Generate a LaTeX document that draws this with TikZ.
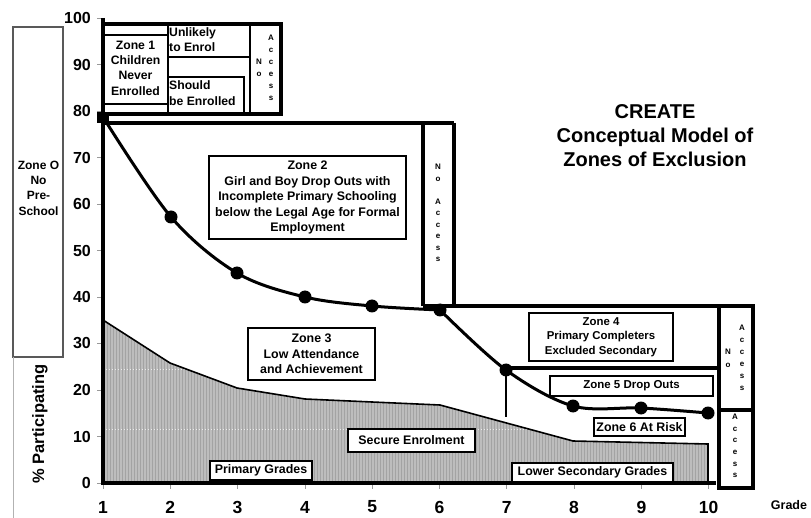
\documentclass[tikz,border=0pt]{standalone}
\usepackage{fontspec}
\setmainfont{Liberation Sans}
\begin{document}
\begin{tikzpicture}[x=1pt,y=-1pt,
  thk/.style={line width=3.2pt},
  thn/.style={line width=1.1pt},
  lbl/.style={draw, line width=1.2pt, fill=white, inner sep=0pt, align=center, font=\fontsize{12.4}{15.5}\selectfont\bfseries},
  txt/.style={inner sep=0pt, align=center, font=\fontsize{12.2}{15.3}\selectfont\bfseries},
  vl/.style={inner sep=0pt, align=center, font=\fontsize{8}{11.8}\selectfont\bfseries},
  ylab/.style={anchor=east, inner sep=0pt, font=\fontsize{16}{16}\selectfont\bfseries},
  xlab/.style={inner sep=0pt, font=\fontsize{17.5}{17.5}\selectfont\bfseries},
]
\useasboundingbox (0,0) rectangle (811,518);

% shaded secure enrolment area
\begin{scope}
\clip (103,320) -- (170,363) -- (237,388) -- (305,399) -- (372,402) -- (440,405) -- (573,441) -- (708,444) -- (708,483) -- (103,483) -- cycle;
\fill[black!26] (100,300) rectangle (712,486);
\foreach \x in {104,107,...,707} \draw[black!36, line width=0.7pt] (\x,300) -- (\x,486);
\draw[black!8, dotted, line width=1pt] (103,370) -- (708,370) (103,429) -- (708,429);
\end{scope}
\draw[line width=1.6pt] (103,320) -- (170,363) -- (237,388) -- (305,399) -- (372,402) -- (440,405) -- (573,441) -- (708,444) -- (708,483);

% Zone O
\draw[black!65, line width=1.4pt] (13,27) rectangle (63,357);
\draw[black!30, line width=1pt] (13,357) -- (13,518);
\node[txt, font=\fontsize{12}{15.3}\selectfont\bfseries] (z0) at (38.5,188) {Zone O\\No\\Pre-\\School};

% Zone 1
\draw[thk] (103,24) rectangle (281,114);
\draw[thn] (103,35) -- (168,35) (103,104) -- (168,104) (168,24) -- (168,114) (168,57) -- (250,57);
\draw[thn] (168,77) rectangle (244,114);
\draw[line width=2.5pt] (250,24) -- (250,114);
\node[txt] (z1) at (135.5,68) {Zone 1\\Children\\Never\\Enrolled};
\node[txt, anchor=west, align=left] (ue) at (169,39.5) {Unlikely\\to Enrol};
\node[txt, anchor=west, align=left] (sbe) at (169,93) {Should\\be Enrolled};
\node[vl] (na1) at (259,67.5) {N\\o};
\node[vl, font=\fontsize{8}{12}\selectfont\bfseries] (na1b) at (271,68) {A\\c\\c\\e\\s\\s};

% Zone 2 frame and no access column
\draw[thk] (103,123) -- (454,123);
\draw[thk] (423,123) -- (423,306) (454,123) -- (454,306);
\draw[thk] (423,306) -- (719,306);
\node[vl, font=\fontsize{8}{11.5}\selectfont\bfseries] (na2) at (438,213) {N\\o\\[11.5pt]A\\c\\c\\e\\s\\s};

% right column and zone 4/5 lines
\draw[thk] (719,306) rectangle (753,488);
\draw[thk] (719,410) -- (753,410);
\draw[thk] (506,368) -- (719,368);
\draw[line width=2.5pt] (506,370) -- (506,417);
\node[vl, font=\fontsize{8}{12.5}\selectfont\bfseries] (na3) at (728,358.5) {N\\o};
\node[vl, font=\fontsize{8}{12}\selectfont\bfseries] (na3b) at (742,358) {A\\c\\c\\e\\s\\s};
\node[vl, font=\fontsize{8}{11.6}\selectfont\bfseries] (na4) at (735,446) {A\\c\\c\\e\\s\\s};

% axes
\foreach \v in {0,10,...,100} {
  \draw[black!40, line width=0.8pt] (97,{483-4.65*\v}) -- (103,{483-4.65*\v});
  \node[ylab] (y\v) at (91,{483-4.65*\v}) {\v};
}
\foreach \g in {1,...,10} {
  \draw[black!40, line width=0.8pt] ({103+67.3*(\g-1)},483) -- ({103+67.3*(\g-1)},489);
  \node[xlab] (x\g) at ({103+67.3*(\g-1)},507) {\g};
}
\draw[line width=3.8pt] (103,18) -- (103,485);
\draw[line width=3.8pt] (101,483) -- (716,483);

% participation curve
\draw[line width=3pt] plot[smooth, tension=0.55] coordinates {(103,117) (171,217) (237,273) (305,297) (372,306) (440,310)};
\draw[line width=3pt] plot[smooth, tension=0.55] coordinates {(440,310) (506,370) (573,406) (641,408) (708,413)};
\fill (97,112) rectangle (109,123);
\foreach \px/\py in {171/217, 237/273, 305/297, 372/306, 440/310, 506/370, 573/406, 641/408, 708/413}
  \fill (\px,\py) circle (6.5);

% labels
\node[lbl, minimum width=197, minimum height=83] (z2) at (307.5,197.5) {Zone 2\\Girl and Boy Drop Outs with\\Incomplete Primary Schooling\\below the Legal Age for Formal\\Employment};
\node[lbl, minimum width=127, minimum height=52] (z3) at (311.5,354) {Zone 3\\Low Attendance\\and Achievement};
\node[lbl, minimum width=144, minimum height=48, font=\fontsize{11.4}{14.5}\selectfont\bfseries] (z4) at (601,337) {Zone 4\\Primary Completers\\Excluded Secondary};
\node[lbl, minimum width=163, minimum height=20, font=\fontsize{11.5}{11.5}\selectfont\bfseries] (z5) at (631.5,386) {Zone 5 Drop Outs};
\node[lbl, minimum width=91, minimum height=18] (z6) at (639.5,427) {Zone 6 At Risk};
\node[lbl, minimum width=161, minimum height=19] (lsg) at (592.5,472.5) {Lower Secondary Grades};
\node[lbl, minimum width=127, minimum height=23] (se) at (411.5,440.5) {Secure Enrolment};
\node[lbl, minimum width=102, minimum height=19] (pg) at (261,470.5) {Primary Grades};

% title and axis labels
\node[inner sep=0pt, align=center, font=\fontsize{20}{24}\selectfont\bfseries] (title) at (655,136) {CREATE\\Conceptual Model of\\Zones of Exclusion};
\node[rotate=90, inner sep=0pt, font=\fontsize{16.5}{16.5}\selectfont\bfseries] (ylabel) at (40,424) {\% Participating};
\node[inner sep=0pt, font=\fontsize{12.5}{12.5}\selectfont\bfseries] (grade) at (789,505) {Grade};
\end{tikzpicture}
\end{document}
